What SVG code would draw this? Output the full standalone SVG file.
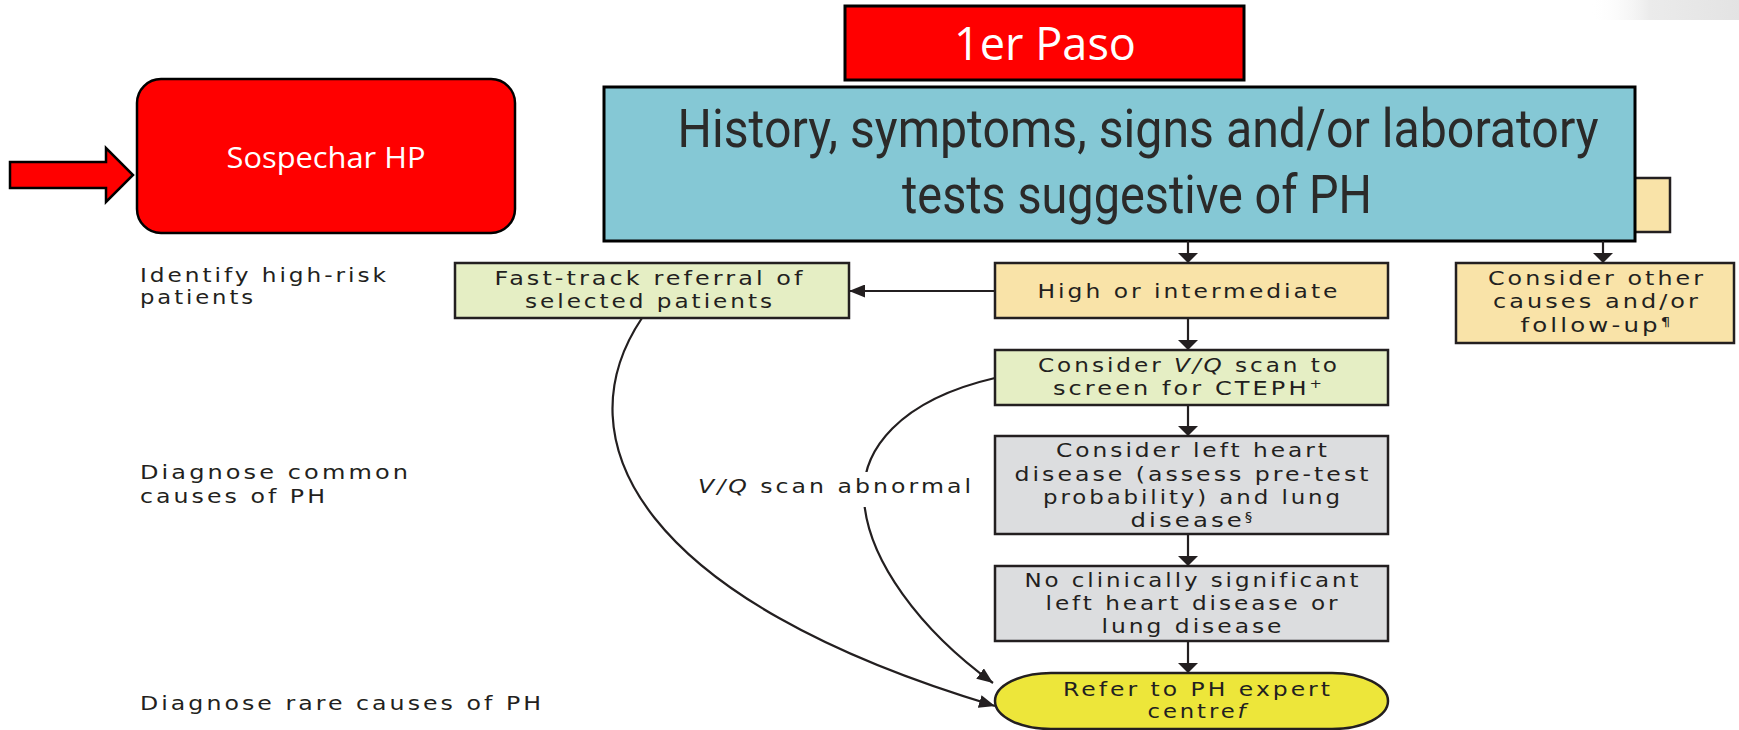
<svg xmlns="http://www.w3.org/2000/svg" width="1739" height="730" viewBox="0 0 1739 730">
<style>
.box{stroke:#231F20;stroke-width:2.5}
.t{font-family:"DejaVu Sans","Liberation Sans",sans-serif;font-size:19.5px;letter-spacing:2.5px;fill:#231F20;text-anchor:middle}
.l{font-family:"DejaVu Sans","Liberation Sans",sans-serif;font-size:19.5px;letter-spacing:2.5px;fill:#231F20}
.c{stroke:#231F20;stroke-width:2.2;fill:none}
.w{font-family:"Open Sans","Liberation Sans",sans-serif;fill:#FFFFFF;text-anchor:middle}
.big{font-family:Roboto,"Liberation Sans",sans-serif;font-size:54px;fill:#2B2A29;text-anchor:middle}
.green{fill:#E5EEC4}
.tan{fill:#F9E3A8}
.grey{fill:#DCDDDF}
.it{font-style:italic}
.sup{font-size:12px}
</style>
<defs>
<marker id="ah" viewBox="0 0 10 20" markerWidth="10" markerHeight="20" refX="10" refY="10" orient="auto" markerUnits="userSpaceOnUse">
<path d="M0,0 L10,10 L0,20 z" fill="#231F20"/>
</marker>
<marker id="ah2" viewBox="0 0 16 13" markerWidth="16" markerHeight="13" refX="16" refY="6.5" orient="auto" markerUnits="userSpaceOnUse">
<path d="M0,0 L16,6.5 L0,13 z" fill="#231F20"/>
</marker>
<linearGradient id="shade" x1="0" y1="0" x2="1" y2="0">
<stop offset="0" stop-color="#FFFFFF" stop-opacity="0"/>
<stop offset="0.4" stop-color="#E6E6E6" stop-opacity="0.8"/>
<stop offset="1" stop-color="#E0E0E0" stop-opacity="0.9"/>
</linearGradient>
</defs>

<rect x="1590" y="0" width="149" height="20" fill="url(#shade)"/>

<g id="arrow-in">
<path d="M10,162 L106,162 L106,148 L133,175 L106,202 L106,188 L10,188 z" fill="#FF0000" stroke="#000000" stroke-width="2.5"/>
</g>

<g id="sospechar">
<rect x="137" y="79" width="378" height="154" rx="24" ry="24" fill="#FF0000" stroke="#000000" stroke-width="2.5"/>
<text class="w" x="326" y="168" font-size="30" textLength="199" lengthAdjust="spacingAndGlyphs">Sospechar HP</text>
</g>

<g id="paso">
<rect x="845" y="6" width="399" height="74" fill="#FF0000" stroke="#000000" stroke-width="3"/>
<text class="w" x="1045" y="60" font-size="46" textLength="182" lengthAdjust="spacingAndGlyphs">1er Paso</text>
</g>

<g id="hidden-box">
<rect class="box tan" x="1600" y="178" width="70" height="54"/>
</g>

<g id="history">
<rect x="604" y="87" width="1031" height="154" fill="#85C8D5" stroke="#000000" stroke-width="3"/>
<text class="big" x="1138" y="147" textLength="921" lengthAdjust="spacingAndGlyphs">History, symptoms, signs and/or laboratory</text>
<text class="big" x="1137" y="213" textLength="470" lengthAdjust="spacingAndGlyphs">tests suggestive of PH</text>
</g>

<g id="label-identify">
<text class="l" x="140" y="282" textLength="249" lengthAdjust="spacingAndGlyphs">Identify high-risk</text>
<text class="l" x="140" y="304" textLength="116" lengthAdjust="spacingAndGlyphs">patients</text>
</g>
<g id="label-common">
<text class="l" x="140" y="479" textLength="271" lengthAdjust="spacingAndGlyphs">Diagnose common</text>
<text class="l" x="140" y="503" textLength="188" lengthAdjust="spacingAndGlyphs">causes of PH</text>
</g>
<g id="label-rare">
<text class="l" x="140" y="710" textLength="404" lengthAdjust="spacingAndGlyphs">Diagnose rare causes of PH</text>
</g>

<g id="fasttrack">
<rect class="box green" x="455" y="263" width="394" height="55"/>
<text class="t" x="650" y="285" textLength="311" lengthAdjust="spacingAndGlyphs">Fast-track referral of</text>
<text class="t" x="650" y="308" textLength="250" lengthAdjust="spacingAndGlyphs">selected patients</text>
</g>

<g id="high">
<rect class="box tan" x="995" y="263" width="393" height="55"/>
<text class="t" x="1189" y="298" textLength="303" lengthAdjust="spacingAndGlyphs">High or intermediate</text>
</g>

<g id="other">
<rect class="box tan" x="1456" y="263" width="278" height="80"/>
<text class="t" x="1597" y="285" textLength="218" lengthAdjust="spacingAndGlyphs">Consider other</text>
<text class="t" x="1597" y="308" textLength="208" lengthAdjust="spacingAndGlyphs">causes and/or</text>
<text class="t" x="1597" y="332" textLength="153" lengthAdjust="spacingAndGlyphs">follow-up<tspan class="sup" dy="-6">¶</tspan></text>
</g>

<g id="vq">
<rect class="box green" x="995" y="350" width="393" height="55"/>
<text class="t" x="1189" y="372" textLength="302" lengthAdjust="spacingAndGlyphs">Consider <tspan class="it">V/Q</tspan> scan to</text>
<text class="t" x="1189" y="395" textLength="272" lengthAdjust="spacingAndGlyphs">screen for CTEPH<tspan class="sup" dy="-7">+</tspan></text>
</g>

<g id="leftheart">
<rect class="box grey" x="995" y="436" width="393" height="98"/>
<text class="t" x="1193" y="457" textLength="274" lengthAdjust="spacingAndGlyphs">Consider left heart</text>
<text class="t" x="1193" y="481" textLength="357" lengthAdjust="spacingAndGlyphs">disease (assess pre-test</text>
<text class="t" x="1193" y="504" textLength="300" lengthAdjust="spacingAndGlyphs">probability) and lung</text>
<text class="t" x="1193" y="527" textLength="125" lengthAdjust="spacingAndGlyphs">disease<tspan class="sup" dy="-6">§</tspan></text>
</g>

<g id="nosig">
<rect class="box grey" x="995" y="566" width="393" height="75"/>
<text class="t" x="1193" y="587" textLength="337" lengthAdjust="spacingAndGlyphs">No clinically significant</text>
<text class="t" x="1193" y="610" textLength="295" lengthAdjust="spacingAndGlyphs">left heart disease or</text>
<text class="t" x="1193" y="633" textLength="183" lengthAdjust="spacingAndGlyphs">lung disease</text>
</g>

<g id="refer">
<rect x="995" y="673" width="393" height="56" rx="56" ry="28" fill="#EDE63A" stroke="#231F20" stroke-width="2.5"/>
<text class="t" x="1198" y="696" textLength="270" lengthAdjust="spacingAndGlyphs">Refer to PH expert</text>
<text class="t" x="1198" y="718" textLength="101" lengthAdjust="spacingAndGlyphs">centre<tspan class="it">f</tspan></text>
</g>

<g id="connectors">
<line class="c" x1="1188" y1="241" x2="1188" y2="263" marker-end="url(#ah)"/>
<line class="c" x1="1603" y1="241" x2="1603" y2="263" marker-end="url(#ah)"/>
<line class="c" x1="995" y1="291" x2="849" y2="291" marker-end="url(#ah2)"/>
<line class="c" x1="1188" y1="318" x2="1188" y2="350" marker-end="url(#ah)"/>
<line class="c" x1="1188" y1="405" x2="1188" y2="436" marker-end="url(#ah)"/>
<line class="c" x1="1188" y1="534" x2="1188" y2="566" marker-end="url(#ah)"/>
<line class="c" x1="1188" y1="641" x2="1188" y2="673" marker-end="url(#ah)"/>
<path class="c" d="M642,318 C560,440 640,600 995,706" marker-end="url(#ah2)"/>
<path class="c" d="M995,378 C900,400 860,450 864,500 C868,560 920,630 993,683" marker-end="url(#ah2)"/>
<rect x="694" y="472" width="284" height="35" fill="#FFFFFF"/>
<text class="l" x="698" y="493" textLength="276" lengthAdjust="spacingAndGlyphs"><tspan class="it">V/Q</tspan> scan abnormal</text>
</g>
</svg>
